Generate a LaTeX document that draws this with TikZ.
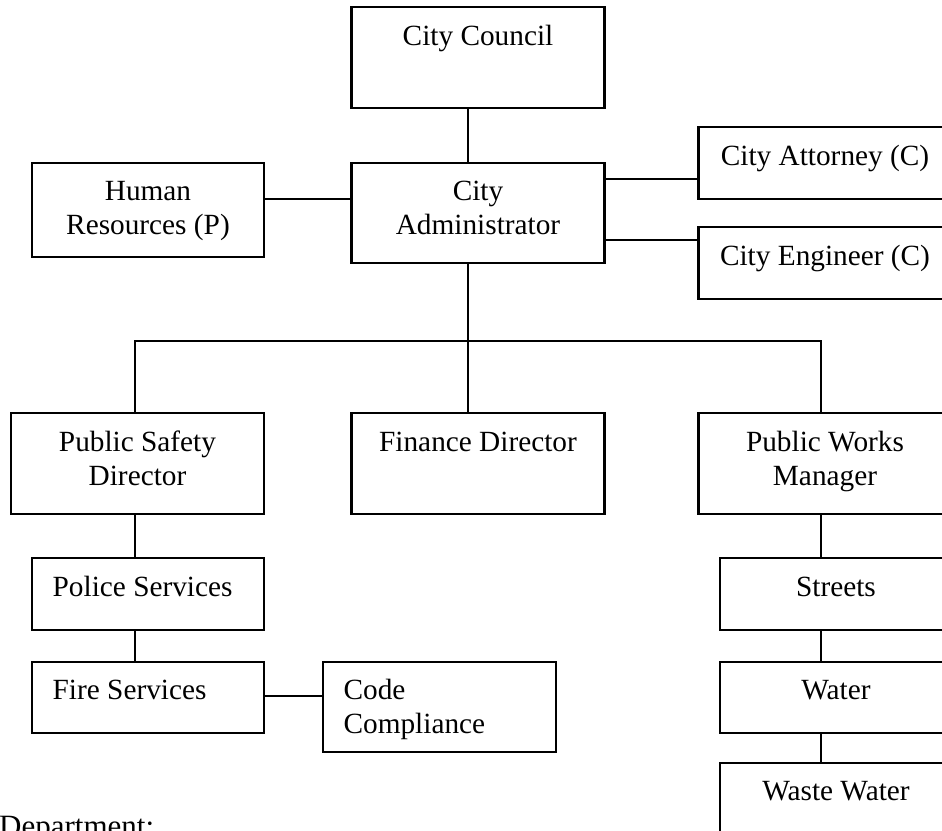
\documentclass[tikz,border=0pt]{standalone}
\usepackage{fontspec}
\setmainfont{Liberation Serif}
\tikzset{
  orgbox/.style={draw, line width=2.2pt, inner sep=0pt, outer sep=0pt, fill=white, anchor=north west},
  lbl/.style={inner sep=0pt, outer sep=0pt, font=\fontsize{29.3}{34.3}\selectfont},
  link/.style={line width=1.9pt},
}
\newcommand\mkbox[5]{%
  \node[orgbox, minimum width={(#4-#2)*1pt}, minimum height={(#5-#3)*1pt}] (#1) at (#2,#3) {};}
\newcommand\ctext[4]{% name, x, baseline y, text
  \node[lbl, anchor=base] (#1) at (#2,#3) {\parbox[t]{240pt}{\centering #4}};}
\newcommand\ltext[4]{% name, x, baseline y, text
  \node[lbl, anchor=base west] (#1) at (#2,#3) {\parbox[t]{220pt}{\raggedright #4}};}
\begin{document}
\begin{tikzpicture}[x=1pt, y=-1pt]
\useasboundingbox (0,0) rectangle (942,830);
\clip (0,0) rectangle (942,830);
\fill[white] (0,0) rectangle (942,830);

% boxes
\mkbox{council}{351.5}{7.3}{604.5}{108.3}
\mkbox{admin}{351.5}{162.7}{604.5}{263.3}
\mkbox{hr}{31.8}{162.7}{264.3}{257.3}
\mkbox{attorney}{698.5}{127.3}{952}{199}
\mkbox{engineer}{698.5}{227.3}{952}{299.3}
\mkbox{ps}{10.8}{413.3}{264.3}{514.3}
\mkbox{finance}{351.5}{413.3}{604.5}{514.3}
\mkbox{pw}{698.5}{413.3}{952}{514.3}
\mkbox{police}{31.8}{558.3}{264.3}{630}
\mkbox{fire}{31.8}{661.7}{264.3}{733.3}
\mkbox{code}{323.2}{661.7}{555.7}{752.3}
\mkbox{streets}{720}{558.3}{952}{630}
\mkbox{water}{720}{661.7}{952}{733.3}
\mkbox{waste}{720}{762.7}{952}{860}

% texts
\ctext{council-t}{478}{45}{City Council}
\ctext{admin-t}{478}{200}{City\\Administrator}
\ctext{hr-t}{148}{200}{Human\\Resources (P)}
\ctext{attorney-t}{825}{165}{City Attorney (C)}
\ctext{engineer-t}{825}{265}{City Engineer (C)}
\ctext{ps-t}{137.5}{451}{Public Safety\\Director}
\ctext{finance-t}{478}{451}{Finance Director}
\ctext{pw-t}{825}{451}{Public Works\\Manager}
\ltext{police-t}{52.7}{596}{Police Services}
\ltext{fire-t}{52.7}{699.5}{Fire Services}
\ltext{code-t}{343.6}{699.5}{Code\\Compliance}
\ctext{streets-t}{836}{596}{Streets}
\ctext{water-t}{836}{699.5}{Water}
\ctext{waste-t}{836}{800.5}{Waste Water}
\node[inner sep=0pt, anchor=base west, font=\fontsize{31}{36}\selectfont] (dept) at (-1,836) {Department:};

% reference coordinates for connector lanes
\coordinate (trunk) at (468.3,0);
\coordinate (lx) at (134.6,0);
\coordinate (rx) at (821,0);
\coordinate (hry) at (0,199.3);
\coordinate (aty) at (0,179);
\coordinate (eny) at (0,240);
\coordinate (busy) at (0,341);
\coordinate (fcy) at (0,695.7);
\coordinate (busL) at (lx |- busy);
\coordinate (busR) at (rx |- busy);
\coordinate (busM) at (trunk |- busy);

% connectors
\draw[link] (council.south -| trunk) -- (admin.north -| trunk);
\draw[link] (admin.west |- hry) -- (hr.east |- hry);
\draw[link] (admin.east |- aty) -- (attorney.west |- aty);
\draw[link] (admin.east |- eny) -- (engineer.west |- eny);
\draw[link] (admin.south -| trunk) -- (busM);
\draw[link, line cap=rect] (busL) -- (busR);
\draw[link] (busL) -- (ps.north -| lx);
\draw[link] (busM) -- (finance.north -| trunk);
\draw[link] (busR) -- (pw.north -| rx);
\draw[link] (ps.south -| lx) -- (police.north -| lx);
\draw[link] (police.south -| lx) -- (fire.north -| lx);
\draw[link] (fire.east |- fcy) -- (code.west |- fcy);
\draw[link] (pw.south -| rx) -- (streets.north -| rx);
\draw[link] (streets.south -| rx) -- (water.north -| rx);
\draw[link] (water.south -| rx) -- (waste.north -| rx);
\end{tikzpicture}
\end{document}
